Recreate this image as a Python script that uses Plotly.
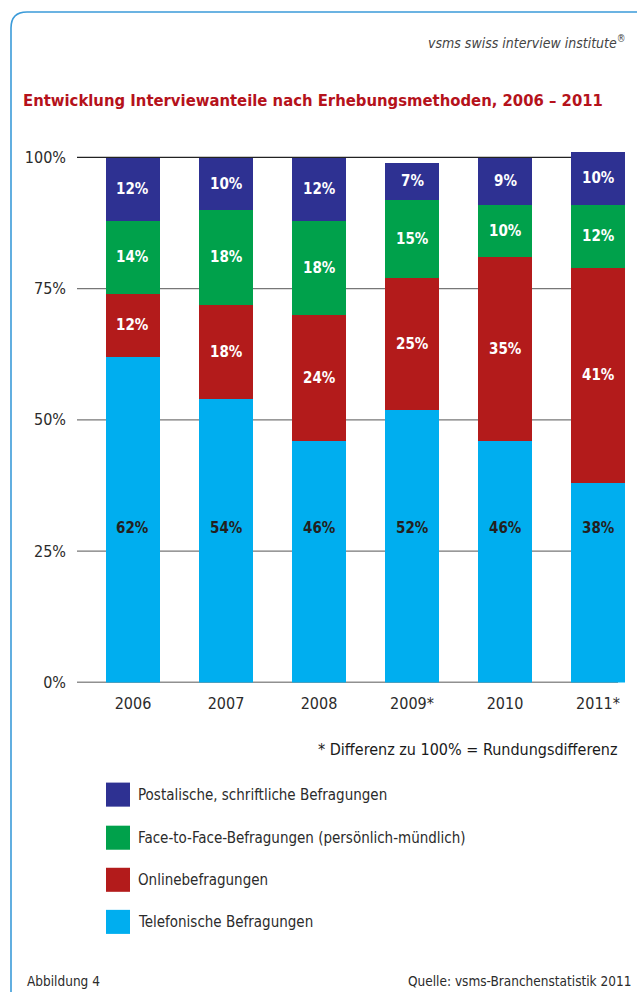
import plotly.graph_objects as go

# ---- data -------------------------------------------------------------
years = ["2006", "2007", "2008", "2009*", "2010", "2011*"]
telefon = [62, 54, 46, 52, 46, 38]
online = [12, 18, 24, 25, 35, 41]
face = [14, 18, 18, 15, 10, 12]
post = [12, 10, 12, 7, 9, 10]

series_names = [
    "Telefonische Befragungen",
    "Onlinebefragungen",
    "Face-to-Face-Befragungen (persönlich-mündlich)",
    "Postalische, schriftliche Befragungen",
]
series_values = [telefon, online, face, post]
series_colors = ["#00aeef", "#b31b1b", "#00a14b", "#2e3192"]
label_colors = ["#231f20", "#ffffff", "#ffffff", "#ffffff"]

y_ticks = [0, 25, 50, 75, 100]
y_ticktext = ["0%", "25%", "50%", "75%", "100%"]

W, H = 637, 992
FONT = "DejaVu Sans Condensed, Liberation Sans Narrow, Arial Narrow, sans-serif"
TXT = "#2b2b2b"

# vertical layout scale (layout positions are given on a 980-row grid)
K = 992 / 980

# plot-area pixel geometry
Y0, PER = 681, 5.24          # pixel row of 0 %, pixels per percent
Y_TOP = 102

def px(x):
    return x / W

def py(y):
    return 1 - y * K / H

fig = go.Figure()

x_idx = list(range(len(years)))
for name, vals, col in zip(series_names, series_values, series_colors):
    fig.add_trace(go.Bar(
        x=x_idx, y=vals, name=name, marker=dict(color=col, line=dict(width=0)),
        width=0.58, showlegend=False, hoverinfo="skip",
    ))

# value labels inside the stacked segments (phone shares on a common baseline)
annotations = []
base = [0] * len(years)
for s, (vals, lc) in enumerate(zip(series_values, label_colors)):
    for i, v in enumerate(vals):
        yc = 29.4 if s == 0 else base[i] + v / 2
        annotations.append(dict(
            x=i, y=yc, xref="x", yref="y", text=f"<b>{v}%</b>", showarrow=False,
            font=dict(family=FONT, size=15, color=lc),
        ))
        base[i] += v

# horizontal reference lines
shapes = []
for t in y_ticks:
    shapes.append(dict(
        type="line", xref="paper", yref="y", x0=px(77), x1=px(618), y0=t, y1=t,
        line=dict(color="#222222" if t in (0, 100) else "#777777", width=1.2),
        layer="below",
    ))

# outer frame with rounded corner
r = 16
x0f, y0f = 11, 12
pts = [(x0f, H + 5), (x0f, y0f + r), (x0f, y0f), (x0f + r, y0f), (W + 5, y0f)]
path = (f"M {px(pts[0][0])},{py(pts[0][1])} L {px(pts[1][0])},{py(pts[1][1])} "
        f"Q {px(pts[2][0])},{py(pts[2][1])} {px(pts[3][0])},{py(pts[3][1])} "
        f"L {px(pts[4][0])},{py(pts[4][1])}")
shapes.append(dict(type="path", path=path, xref="paper", yref="paper",
                   line=dict(color="#3b9bd9", width=1.6)))

# legend drawn as swatches + labels (top item = top segment)
leg_y = [793, 836, 878, 920]
for k, (name, col) in enumerate(zip(series_names[::-1], series_colors[::-1])):
    yc = leg_y[k]
    shapes.append(dict(type="rect", xref="paper", yref="paper",
                       x0=px(106), x1=px(130), y0=py(yc + 12), y1=py(yc - 12),
                       fillcolor=col, line=dict(width=0)))
    annotations.append(dict(x=px(136), y=py(yc), xref="paper", yref="paper",
                            text=name, showarrow=False, xanchor="left", yanchor="middle",
                            font=dict(family=FONT, size=15, color=TXT)))

# titles and notes
annotations += [
    dict(x=px(628), y=py(42), xref="paper", yref="paper", xanchor="right", yanchor="middle",
         text="<i>vsms swiss interview institute</i><sup>®</sup>", showarrow=False,
         font=dict(family=FONT, size=14, color="#444444")),
    dict(x=px(21), y=py(100), xref="paper", yref="paper", xanchor="left", yanchor="middle",
         text="<b>Entwicklung Interviewanteile nach Erhebungsmethoden, 2006 – 2011</b>",
         showarrow=False, font=dict(family=FONT, size=16.5, color="#b5121b")),
    dict(x=px(619), y=py(748), xref="paper", yref="paper", xanchor="right", yanchor="middle",
         text="* Differenz zu 100% = Rundungsdifferenz", showarrow=False,
         font=dict(family=FONT, size=16, color="#1a1a1a")),
    dict(x=px(25), y=py(979), xref="paper", yref="paper", xanchor="left", yanchor="middle",
         text="Abbildung 4", showarrow=False, font=dict(family=FONT, size=13.5, color=TXT)),
    dict(x=px(633), y=py(979), xref="paper", yref="paper", xanchor="right", yanchor="middle",
         text="Quelle: vsms-Branchenstatistik 2011", showarrow=False,
         font=dict(family=FONT, size=13.5, color=TXT)),
]

fig.update_layout(
    width=W, height=H, margin=dict(l=0, r=0, t=0, b=0),
    paper_bgcolor="white", plot_bgcolor="white", barmode="stack",
    bargap=0, showlegend=False,
    xaxis=dict(domain=[px(77), px(625)], range=[-0.602, 5.29], tickmode="array",
               tickvals=x_idx, ticktext=years, showgrid=False, zeroline=False,
               showline=False, ticks="", ticklabelstandoff=10,
               tickfont=dict(family=FONT, size=16, color=TXT)),
    yaxis=dict(domain=[py(Y0), py(Y0 - PER * Y_TOP)], range=[0, Y_TOP], tickmode="array",
               tickvals=y_ticks, ticktext=y_ticktext, showgrid=False, zeroline=False,
               showline=False, ticks="", ticklabelstandoff=10,
               tickfont=dict(family=FONT, size=16, color=TXT)),
    shapes=shapes, annotations=annotations,
)

fig.write_html("out.html")
